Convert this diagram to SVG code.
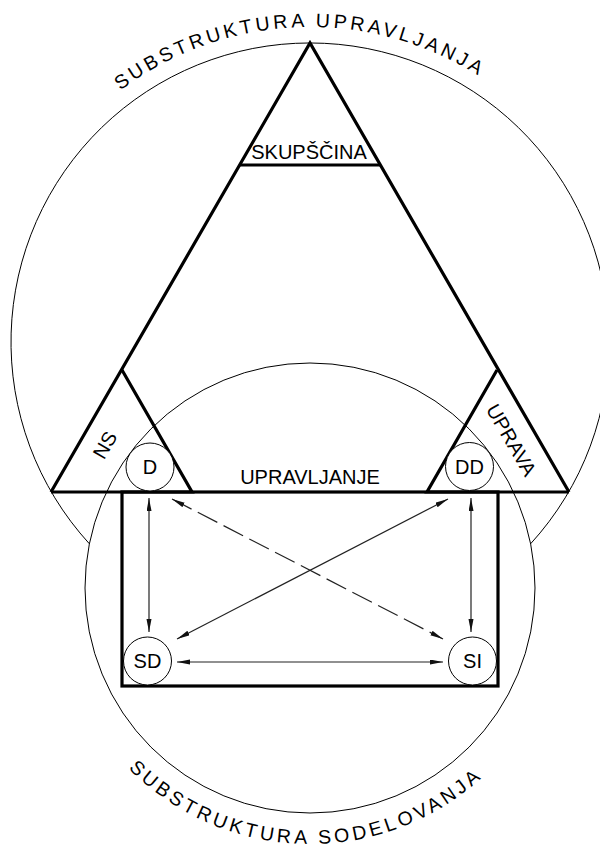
<svg xmlns="http://www.w3.org/2000/svg" width="600" height="847" viewBox="0 0 600 847">
<style>
.thin{fill:none;stroke:#000;stroke-width:1}
.thick{fill:none;stroke:#000;stroke-width:3.2;stroke-linejoin:miter}
.lbl{font-family:"Liberation Sans",Arial,sans-serif;font-size:20px;fill:#000}
.arc{font-family:"Liberation Sans",Arial,sans-serif;font-size:19.5px;fill:#000}
.node{fill:#fff;stroke:#000;stroke-width:1}
.arr{fill:none;stroke:#222;stroke-width:1.2}
.dash{stroke-dasharray:22 7}
</style>
<defs>
<marker id="ah" markerUnits="userSpaceOnUse" markerWidth="14" markerHeight="6" refX="13" refY="2.5" orient="auto-start-reverse">
<path d="M0,0 L13,2.5 L0,5 z" fill="#111" stroke="none"/>
</marker>
<path id="topArc" d="M -5 342 A 315 315 0 0 1 625 342"/>
<path id="botArc" d="M 54 588 A 256 256 0 0 0 566 588"/>
</defs>
<rect width="600" height="847" fill="#fff"/>
<g id="substructure-circles">
<path class="thin" d="M 530.6 543.8 A 299 299 0 1 0 89.4 543.8"/>
<circle class="thin" cx="310" cy="588" r="225"/>
</g>
<g id="triangle">
<path class="thick" d="M 51 492 L 310 43 L 569 492"/>
<line class="thick" x1="239.5" y1="165" x2="380.5" y2="165"/>
<path class="thick" d="M 51 492 L 192 492 L 122 370"/>
<path class="thick" d="M 569 492 L 427 492 L 497 370"/>
</g>
<g id="rect-upravljanje">
<rect class="thick" x="122" y="492" width="376" height="194"/>
</g>
<g id="labels">
<text class="lbl" x="309" y="159" text-anchor="middle">SKUPŠČINA</text>
<text class="lbl" x="310" y="484" text-anchor="middle">UPRAVLJANJE</text>
<text class="lbl" transform="translate(105,445) rotate(-60)" x="0" y="7" text-anchor="middle">NS</text>
<text class="lbl" transform="translate(511.5,440) rotate(60)" x="0" y="7" text-anchor="middle">UPRAVA</text>
<text class="arc" letter-spacing="3.5"><textPath href="#topArc" startOffset="291">SUBSTRUKTURA UPRAVLJANJA</textPath></text>
<text class="arc" letter-spacing="3.6"><textPath href="#botArc" startOffset="200">SUBSTRUKTURA SODELOVANJA</textPath></text>
</g>
<g id="node-D"><circle class="node" cx="150" cy="467" r="24"/><text class="lbl" x="150" y="474" text-anchor="middle">D</text></g>
<g id="node-DD"><circle class="node" cx="469.5" cy="466.5" r="24"/><text class="lbl" x="469.5" y="473.5" text-anchor="middle">DD</text></g>
<g id="node-SD"><circle class="node" cx="147.5" cy="661" r="24"/><text class="lbl" x="147.5" y="668" text-anchor="middle">SD</text></g>
<g id="node-SI"><circle class="node" cx="472.5" cy="661" r="24"/><text class="lbl" x="472.5" y="668" text-anchor="middle">SI</text></g>
<g id="connectors">
<line class="arr" x1="149" y1="498" x2="149" y2="632" marker-start="url(#ah)" marker-end="url(#ah)"/>
<line class="arr" x1="471" y1="498" x2="471" y2="632" marker-start="url(#ah)" marker-end="url(#ah)"/>
<line class="arr" x1="177" y1="662" x2="443" y2="662" marker-start="url(#ah)" marker-end="url(#ah)"/>
<line class="arr" x1="448" y1="499" x2="177" y2="639" marker-start="url(#ah)" marker-end="url(#ah)"/>
<line class="arr dash" x1="172" y1="499" x2="443" y2="639" marker-start="url(#ah)" marker-end="url(#ah)"/>
</g>
</svg>
